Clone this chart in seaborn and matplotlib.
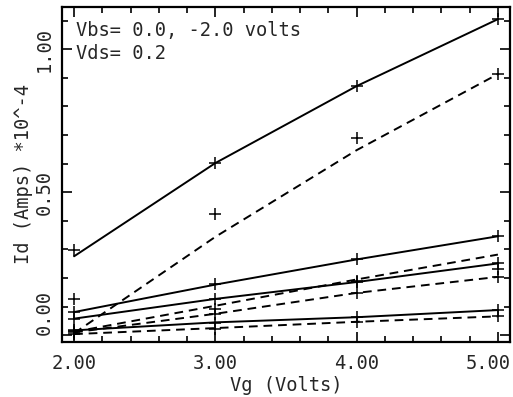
import numpy as np
import pandas as pd
import matplotlib
matplotlib.use("Agg")
import matplotlib.pyplot as plt
from matplotlib.ticker import MultipleLocator
import seaborn as sns

# gate voltage points
vg = [2.0, 3.0, 4.0, 5.0]

# simulated drain current (*10^-4 A), solid curves
solid_1 = [0.276, 0.602, 0.871, 1.105]
solid_2 = [0.081, 0.177, 0.265, 0.346]
solid_3 = [0.058, 0.127, 0.186, 0.251]
solid_4 = [0.017, 0.045, 0.063, 0.088]

# simulated drain current, dashed curves
dashed_1 = [0.007, 0.344, 0.647, 0.913]
dashed_2 = [0.012, 0.103, 0.195, 0.282]
dashed_3 = [0.010, 0.075, 0.148, 0.204]
dashed_4 = [0.004, 0.025, 0.047, 0.066]

# measured points (+ markers)
meas_1 = [0.297, 0.602, 0.871, 1.105]
meas_2 = [0.128, 0.425, 0.688, 0.913]
meas_3 = [0.081, 0.178, 0.265, 0.346]
meas_4 = [0.058, 0.128, 0.186, 0.251]
meas_5 = [0.015, 0.090, 0.190, 0.233]
meas_6 = [0.012, 0.075, 0.148, 0.204]
meas_7 = [0.017, 0.043, 0.064, 0.089]
meas_8 = [0.006, 0.023, 0.047, 0.066]

x_ticks = [2.0, 3.0, 4.0, 5.0]
x_ticklabels = ["2.00", "3.00", "4.00", "5.00"]
y_ticks = [0.0, 0.5, 1.0]
y_ticklabels = ["0.00", "0.50", "1.00"]


def build_frames():
    curves = {
        "s1": ("solid", solid_1), "s2": ("solid", solid_2),
        "s3": ("solid", solid_3), "s4": ("solid", solid_4),
        "d1": ("dashed", dashed_1), "d2": ("dashed", dashed_2),
        "d3": ("dashed", dashed_3), "d4": ("dashed", dashed_4),
    }
    rows = []
    for name, (kind, vals) in curves.items():
        for x, y in zip(vg, vals):
            rows.append({"vg": x, "id": y, "curve": name, "kind": kind})
    lines = pd.DataFrame(rows)

    meas = [meas_1, meas_2, meas_3, meas_4, meas_5, meas_6, meas_7, meas_8]
    pts = []
    for i, vals in enumerate(meas):
        for x, y in zip(vg, vals):
            pts.append({"vg": x, "id": y, "set": i})
    points = pd.DataFrame(pts)
    return lines, points


def main():
    sns.set_theme(style="ticks")
    plt.rcParams["font.family"] = ["DejaVu Sans Mono"]

    lines, points = build_frames()

    fig = plt.figure(figsize=(5.13, 3.97), dpi=100)
    ax = fig.add_axes([0.121, 0.139, 0.873, 0.843])

    sns.lineplot(data=lines, x="vg", y="id", units="curve", estimator=None,
                 style="kind", dashes={"solid": "", "dashed": (4.5, 3)},
                 color="black", linewidth=1.4, legend=False, ax=ax)
    sns.scatterplot(data=points, x="vg", y="id", marker="+", s=80,
                    color="black", linewidth=1.1, legend=False, ax=ax)

    ax.set_xlim(1.915, 5.085)
    ax.set_ylim(-0.023, 1.147)
    ax.set_xticks(x_ticks)
    # last label is drawn separately, nudged left so it stays in the figure
    ax.set_xticklabels(x_ticklabels[:-1] + [""], fontsize=13.5)
    ax.annotate(x_ticklabels[-1], xy=(x_ticks[-1], 0),
                xycoords=("data", "axes fraction"), xytext=(-7, -9),
                textcoords="offset points", ha="center", va="top",
                fontsize=13.5)
    ax.set_yticks(y_ticks)
    ax.set_yticklabels(y_ticklabels, fontsize=13.5, rotation=90, va="center")
    # lowest label sits above its tick, clear of the x labels
    ax.get_yticklabels()[0].set_va("bottom")
    ax.xaxis.set_minor_locator(MultipleLocator(0.2))
    ax.yaxis.set_minor_locator(MultipleLocator(0.1))
    ax.tick_params(which="both", direction="in", top=True, right=True,
                   color="black", width=1.2)
    ax.tick_params(which="major", length=7)
    ax.tick_params(axis="x", which="major", pad=9)
    ax.tick_params(axis="y", which="major", pad=6)
    ax.tick_params(which="minor", length=4)
    for sp in ax.spines.values():
        sp.set_linewidth(1.6)
        sp.set_color("black")

    ax.set_xlabel("Vg (Volts)", fontsize=13.5, labelpad=2)
    ax.set_ylabel("Id (Amps) *10^-4", fontsize=13.5, labelpad=1)

    ax.text(0.031, 0.958, "Vbs= 0.0, -2.0 volts\nVds= 0.2", transform=ax.transAxes,
            fontsize=13.5, va="top", ha="left", linespacing=1.25)

    fig.savefig("out.png", dpi=100)
    plt.close(fig)


if __name__ == "__main__":
    main()
